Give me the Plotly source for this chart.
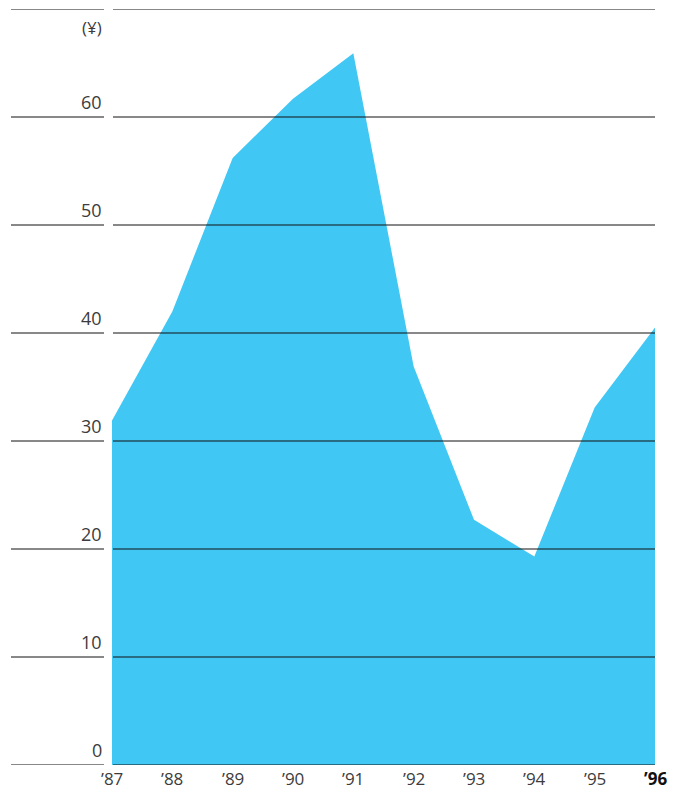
import plotly.graph_objects as go

years = ["’87", "’88", "’89", "’90", "’91", "’92", "’93", "’94", "’95", "’96"]
values = [31.9, 42.0, 56.2, 61.7, 65.9, 36.9, 22.7, 19.3, 33.1, 40.5]
y_ticks = [0, 10, 20, 30, 40, 50, 60]
y_unit = "(¥)"

W, H = 673, 789
L, R, T, B = 112, 18, 9, 24
plot_w = W - L - R

def px_to_paper_x(px):
    return (px - L) / plot_w

xs = list(range(len(years)))

fig = go.Figure()
fig.add_trace(go.Scatter(
    x=xs, y=values, mode="lines", fill="tozeroy",
    fillcolor="#41C7F4", line=dict(color="#41C7F4", width=0),
    hoverinfo="skip", showlegend=False,
))

shapes = []
annotations = []
grid_color = "#111111"
for v in y_ticks + [70]:
    # short segment under the value label
    shapes.append(dict(type="line", xref="paper", yref="y",
                       x0=px_to_paper_x(11), x1=px_to_paper_x(104), y0=v, y1=v,
                       line=dict(color=grid_color, width=1), layer="above"))
    # long gridline across the plot
    shapes.append(dict(type="line", xref="paper", yref="y",
                       x0=px_to_paper_x(113), x1=1, y0=v, y1=v,
                       line=dict(color=grid_color, width=1), layer="above"))

font_family = "Open Sans, Noto Sans, sans-serif"
label_font = dict(family=font_family, size=18, color="#3c3c3c")
for v in y_ticks:
    annotations.append(dict(xref="paper", yref="y", x=px_to_paper_x(104), y=v,
                            text=str(v), showarrow=False, xanchor="right",
                            yanchor="bottom", yshift=1, font=label_font))
# unit label near the top of the value axis
annotations.append(dict(xref="paper", yref="y", x=px_to_paper_x(104), y=68.3,
                        text=y_unit, showarrow=False, xanchor="right", yanchor="middle",
                        font=dict(family=font_family, size=17, color="#3c3c3c")))

for i, lab in enumerate(years):
    last = i == len(years) - 1
    annotations.append(dict(xref="x", yref="paper", x=i, y=0, text=f"<b>{lab}</b>" if last else lab,
                            showarrow=False, xanchor="center", yanchor="top", yshift=0,
                            font=dict(family=font_family, size=17,
                                      color="#111111" if last else "#3c3c3c")))

fig.update_layout(
    width=W, height=H,
    margin=dict(l=L, r=R, t=T, b=B),
    paper_bgcolor="white", plot_bgcolor="white",
    xaxis=dict(range=[0, len(years) - 1], showgrid=False, zeroline=False,
               showticklabels=False, ticks="", fixedrange=True),
    yaxis=dict(range=[0, 70], showgrid=False, zeroline=False,
               showticklabels=False, ticks="", fixedrange=True),
    shapes=shapes, annotations=annotations,
)

fig.write_html("out.html")
